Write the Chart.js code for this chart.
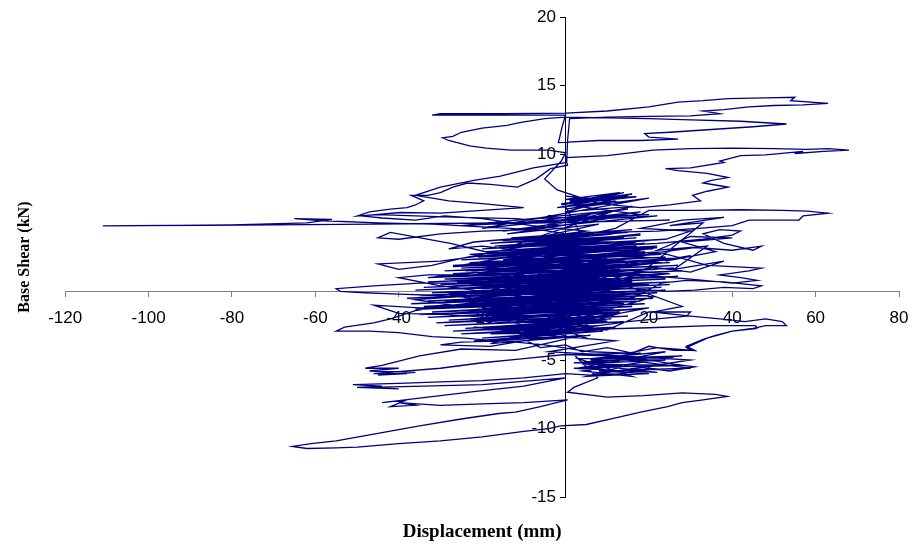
<!DOCTYPE html>
<html>
<head>
<meta charset="utf-8">
<script src="https://cdn.jsdelivr.net/npm/chart.js@4.4.1/dist/chart.umd.min.js"></script>
<style>
  html, body { margin: 0; padding: 0; background: #fff; }
</style>
</head>
<body>
<canvas id="hysteresisChart" width="915" height="550"></canvas>
<script>
// Axis ticks
const xTicks = [-120, -100, -80, -60, -40, -20, 0, 20, 40, 60, 80];
const yTicks = [-15, -10, -5, 0, 5, 10, 15, 20];

// Displacement (mm), base shear (kN) pairs, in time order
const coreSmall = [
  [0, 0], [4, 0.5], [-3, -0.3], [7, 0.9], [-6, -0.5], [9, 1.2], [-8, 0.2], [12, 0.8], [-10, -0.7], [13, 1.6],
  [-7, 0.5], [15, 2.0], [-12, -0.2], [10, 2.4], [-14, 0.7], [17, 1.2], [-11, -1.1], [14, 0.3], [-16, -0.8], [12, 1.9],
  [-18, 0.3], [19, 2.6], [-9, 1.5], [21, 1.8], [-15, -1.5], [8, -0.6], [-20, -1.0], [16, 0.9], [-13, 1.1], [18, 3.0],
  [-6, 2.3], [23, 2.1], [-17, 0.8], [13, -0.7], [-22, -1.8], [11, -1.3], [-19, -2.2], [7, -1.8], [-23, -0.5], [20, 0.5],
  [-25, 0.4], [15, 1.5], [-21, 1.3], [22, 3.2], [-4, 2.9], [17, 3.6], [-11, 2.1], [25, 1.3], [-27, -0.3], [9, -2.1],
  [-17, -2.7], [5, -2.5], [-24, -1.4], [19, -0.1], [-29, -0.7], [14, -0.9], [-26, 0.7], [24, 1.0], [-14, 2.0], [19, 2.9],
  [-19, 1.7], [11, 3.9], [-7, 3.4], [18, 4.2], [-13, 2.8], [26, 2.4], [-23, 1.5], [21, -0.4]
];

const coreSweepUp = [
  [-18, -3.8], [6, -3.2], [-22, -3.6], [9, -2.9], [-20, -3.4], [12, -2.7], [-25, -3.1], [8, -2.5], [-27, -2.9], [14, -2.2],
  [-24, -2.7], [11, -2.0], [-29, -2.5], [15, -1.8], [-31, -2.3], [13, -1.5], [-28, -2.1], [17, -1.3], [-33, -1.9], [16, -1.1],
  [-35, -1.7], [19, -0.9], [-32, -1.5], [18, -0.7], [-36, -1.3], [21, -0.5], [-34, -1.1], [20, -0.3], [-37, -0.9], [22, -0.1],
  [-33, -0.7], [24, 0.1], [-38, -0.5], [23, 0.3], [-35, -0.3], [25, 0.5], [-32, -0.1], [26, 0.7], [-36, 0.1], [24, 0.9],
  [-34, 0.3], [27, 1.1], [-30, 0.5], [25, 1.3], [-33, 0.7], [28, 1.5], [-29, 0.9], [26, 1.7], [-31, 1.1], [27, 1.9],
  [-27, 1.3], [25, 2.1], [-29, 1.5], [26, 2.3], [-25, 1.7], [24, 2.5], [-27, 1.9], [23, 2.7], [-23, 2.1], [25, 2.9],
  [-25, 2.3], [21, 3.1], [-21, 2.5], [22, 3.3], [-23, 2.7], [19, 3.5], [-19, 2.9], [20, 3.7], [-20, 3.1], [17, 3.9],
  [-17, 3.3], [18, 4.1], [-18, 3.5], [15, 4.3], [-15, 3.7], [16, 4.5], [-13, 3.9]
];

const coreSweepDown = [
  [12, 4.2], [-10, 3.6], [14, 3.9], [-16, 3.2], [10, 3.6], [-12, 2.9], [17, 3.3], [-20, 2.6], [13, 3.0], [-15, 2.3],
  [19, 2.7], [-22, 2.0], [15, 2.4], [-18, 1.8], [21, 2.2], [-24, 1.5], [16, 1.9], [-20, 1.2], [22, 1.6], [-26, 0.9],
  [18, 1.3], [-22, 0.7], [20, 1.0], [-27, 0.4], [15, 0.8], [-24, 0.2], [19, 0.5], [-28, -0.1], [14, 0.2], [-23, -0.3],
  [17, 0.0], [-26, -0.6], [12, -0.3], [-22, -0.8], [16, -0.5], [-25, -1.1], [11, -0.8], [-21, -1.3], [13, -1.0], [-24, -1.6],
  [9, -1.3], [-19, -1.8], [12, -1.6], [-22, -2.1], [7, -1.9], [-17, -2.3], [10, -2.2], [-20, -2.6], [5, -2.5], [-15, -2.8],
  [8, -2.8], [-18, -3.1], [3, -3.0], [-13, -3.3], [5, -3.4], [-6, -2.2], [10, -0.9], [-3, 0.6], [6, 1.4], [-5, 2.6]
];

const lowerRight = [
  [28, -1.1], [21, -1.5], [30, -1.8], [37, -2.0], [43, -2.2], [48, -2.0], [52, -2.2], [53, -2.5], [48, -2.5], [45, -2.7],
  [40, -2.9], [36, -3.2], [33, -3.5], [29, -4.0], [31, -4.3], [26, -4.3], [20, -4.0], [16, -4.5], [10, -4.1], [4, -4.4],
  [0, -3.9], [-6, -4.1], [-10, -3.5], [-17, -3.6], [-24, -3.4], [-32, -3.3], [-40, -3.0], [-47, -2.9], [-55, -2.9], [-53, -2.6],
  [-46, -2.3], [-42, -2.0], [-36, -1.4], [-30, -1.1], [-24, -0.9], [-14, -0.6], [-20, -1.2], [6, 0.2], [-12, -1.8], [10, -0.3],
  [-8, -2.4], [13, -1.6], [-4, -3.1], [12, -2.6], [-10, -2.9], [20, -1.2], [-16, -2.0], [2, -3.4], [-22, -2.6], [8, -2.9],
  [-3, -1.2], [16, -0.5]
];

const rightUpper = [
  [23, 0.6], [29, 0.8], [38, 0.7], [47, 0.4], [45, 0.2], [38, 0.3], [31, 0.1], [24, 0.0], [12, 0.3], [-10, -0.4],
  [-30, 0.4], [-40, 1.0], [-33, 1.2], [-22, 1.2], [-12, 1.6], [5, 2.0], [23, 2.8], [28, 2.4], [34, 1.9], [40, 1.8],
  [47, 1.7], [44, 1.5], [37, 1.2], [42, 1.0], [46, 0.8], [40, 0.6], [30, 0.9], [18, 1.2], [4, 1.0], [-14, 0.9],
  [-22, 0.6], [-35, 0.6], [-46, 0.4], [-55, 0.2], [-54, 0.0], [-48, -0.1], [-40, -0.2], [-30, -0.3], [-18, 0.1], [0, 1.3],
  [14, 2.4], [26, 3.0], [31, 3.2], [40, 3.0], [47, 3.3], [45, 3.0], [38, 3.5], [33, 4.2], [37, 4.5], [42, 4.4],
  [40, 4.1], [33, 3.8], [22, 3.5], [10, 3.3], [-4, 3.0], [-20, 2.6], [-30, 2.2], [-45, 2.0], [-40, 1.6], [-32, 1.9],
  [-25, 2.4], [-15, 3.0], [0, 3.8], [12, 4.6], [20, 5.9], [26, 5.9], [32, 5.9], [42, 5.95], [52, 5.9], [58, 5.85],
  [63, 5.7], [57, 5.5], [56, 5.2], [48, 5.2], [44, 5.2], [40, 4.8], [32, 4.6], [22, 4.4], [10, 4.3], [-2, 4.1],
  [-14, 3.8], [-22, 3.6], [-28, 3.1], [-20, 3.3]
];

const rightMid = [
  [18, 2.0], [30, 2.6], [24, 2.2], [36, 2.9], [28, 3.6], [40, 3.9], [30, 4.0], [22, 3.0], [34, 3.3], [26, 1.6],
  [38, 2.2], [30, 1.4], [20, 1.8], [33, 5.0], [25, 4.8], [38, 5.4], [28, 5.2], [18, 4.6], [30, 4.4], [24, 3.8],
  [12, 3.6]
];

const upperCentre = [
  [-10, 3.7], [8, 4.9], [-14, 4.2], [12, 5.4], [-6, 4.6], [16, 6.2], [0, 5.8], [15, 7.0], [1, 6.6], [14, 6.9],
  [-1, 6.4], [10, 6.7], [0, 6.95], [13, 6.5], [3, 6.2], [18, 5.6], [-3, 5.1], [6, 5.6], [-8, 4.6], [4, 4.0],
  [0, 6.2], [14, 7.2], [-1, 6.3], [16, 7.1], [1, 6.5], [13, 7.2], [0, 6.7], [17, 6.9], [2, 6.4], [15, 7.0],
  [-2, 6.1], [12, 6.6], [0, 6.0], [20, 6.8], [-20, 4.6], [18, 5.8], [-15, 4.4], [22, 5.5], [-25, 4.8], [15, 6.0],
  [-10, 5.0], [25, 5.2], [-18, 4.9], [20, 5.6], [-8, 5.3], [12, 5.9], [-12, 3.4], [9, 3.1], [-7, 2.8], [-18, 2.8],
  [-27.6, 3.5], [-42, 4.3], [-45, 3.9], [-40, 3.8], [-30, 4.2], [-20, 4.4], [-8, 4.5]
];

const spikeLeft = [
  [-20, 4.7], [-32, 4.9], [-45, 5.0], [-58, 5.15], [-65, 5.3], [-56, 5.25], [-62, 5.0], [-80, 4.85], [-100, 4.8], [-111, 4.78],
  [-104, 4.8], [-86, 4.82], [-62, 4.86], [-46, 4.9], [-30, 4.95], [-15, 5.0], [-4, 5.1], [-12, 5.3], [-25, 5.4], [-36, 5.5],
  [-45, 5.6], [-50, 5.5], [-47, 5.8], [-42, 6.0], [-38, 6.1], [-36, 6.3], [-34, 6.6], [-37, 7.0], [-33, 7.0], [-30, 7.2],
  [-27, 7.6], [-23.5, 7.9], [-18, 7.8], [-11.5, 7.6], [-7, 8.2], [-3.6, 8.95], [0.5, 9.2]
];

const upperLoops = [
  [0, 9.75], [10, 9.9], [21, 10.3], [30, 10.4], [40, 10.45], [50, 10.4], [58, 10.35], [63, 10.4], [68, 10.3], [62, 10.2],
  [55, 10.05], [57, 10.2], [48, 9.95], [42, 9.9], [37, 9.5], [38, 9.4], [30, 9.0], [24, 8.95], [27, 8.8], [34, 8.6],
  [39, 8.3], [35, 8.1], [33, 7.9], [37, 7.7], [39, 7.6], [34, 7.3], [30.5, 7.0], [32.4, 6.6], [25, 6.3], [18, 6.1],
  [8, 6.4], [-2, 7.4], [-5, 8.2], [-1, 9.5], [0, 10.1], [-4, 10.3], [-13, 10.3], [-19, 10.45], [-23, 10.6], [-28, 11.0],
  [-29.5, 11.2], [-27, 11.3], [-25, 11.6], [-20, 11.9], [-14, 12.1], [-11, 12.3], [-5, 12.6], [0, 12.7], [10, 12.65], [20, 12.6],
  [30, 12.5], [42, 12.4], [53, 12.2], [45, 12.0], [35, 11.8], [25, 11.6], [19, 11.5], [20, 11.25], [27, 11.1], [18, 11.0],
  [8, 11.0], [-1.7, 10.85], [-0.8, 12.0], [0, 12.85]
];

const topLoops = [
  [-10, 12.85], [-32, 12.85], [-30, 12.95], [-15, 12.95], [0, 13.0], [10, 13.15], [20, 13.45], [27, 13.8], [33, 13.9], [39, 14.05],
  [48, 14.1], [55, 14.15], [54, 13.9], [63, 13.7], [57, 13.6], [50, 13.55], [44, 13.45], [38, 13.25], [33, 13.15], [37, 12.95],
  [30, 12.8], [20, 12.75], [10, 12.7], [1, 12.6], [0.5, 11.0], [0.3, 9.4]
];

const descent = [
  [-7.7, 9.0], [-15.6, 8.4], [-22, 8.1], [-30, 7.6], [-36, 7.0], [-33, 6.85], [-28, 6.6], [-20, 6.4], [-10, 6.1], [-20, 5.9],
  [-30, 5.7], [-39.6, 5.75], [-49, 5.5], [-44, 5.35], [-36, 5.2], [-29, 5.5], [-20, 5.3], [-8, 4.8], [5, 4.4], [-5, 4.0],
  [8, 3.6], [-18, 2.6], [-8, 2.8], [-27, 1.8], [6, 2.2], [-33, 1.0], [-14, 1.2], [10, 1.9], [-20, 0.2], [16, 0.7],
  [-24, -0.4], [8, 0.3], [-36, -0.6], [-25, -1.1], [-35, -1.2], [-46, -1.0], [-40, -1.6], [-28, -1.7], [-14, -2.0], [0, -2.6],
  [10, -2.8], [20, -1.5], [30, -1.5], [29, -1.8], [15, -2.2], [0.7, -2.8], [20, -2.65], [35, -2.5], [45.6, -2.5], [46, -2.7],
  [40, -2.9], [34, -3.4], [29, -4.1], [30.7, -4.3], [22, -4.1], [15, -4.5]
];

const lowerLoops = [
  [6, -4.4], [-5, -3.9], [-15, -3.6], [-25, -3.7], [-30, -3.9], [-18, -4.0], [-8, -3.5], [4, -3.2], [-12, -4.3], [-25, -4.2],
  [-35, -4.7], [-44, -5.4], [-48, -5.6], [-40, -5.6], [-47, -5.8], [-36, -5.9], [-45, -6.1], [-38, -6.0], [-46, -6.0], [-30, -5.6],
  [-20, -5.2], [-10, -4.9], [0, -4.6], [10, -4.7], [18, -4.9], [26, -5.3], [31, -5.5], [25, -5.8], [20, -5.6], [14, -6.0],
  [6, -6.1], [0, -6.0], [-10, -6.3], [-20, -6.5], [-30, -6.6], [-40, -6.7], [-51, -6.8], [-44, -6.9], [-50, -7.0], [-40, -7.1],
  [-47, -7.0], [-34, -6.9], [-20, -6.8], [-8, -6.5], [0, -6.3], [-10, -6.9], [-22, -7.3], [-33, -7.7], [-44, -8.1], [-38, -7.9],
  [-42, -8.4], [-36, -8.3], [-40, -8.1], [-30, -8.3], [-20, -8.2], [-10, -8.1], [0.5, -7.9]
];

const bottomLoop = [
  [-6, -8.4], [-12, -8.8], [-16, -8.9], [-25, -9.3], [-35, -9.8], [-44, -10.3], [-55, -10.9], [-61, -11.1], [-65.5, -11.3], [-62, -11.45],
  [-55, -11.4], [-50, -11.35], [-40, -11.1], [-30, -10.9], [-20, -10.6], [-10, -10.2], [-4, -10.0], [-1.2, -9.8], [5, -9.7], [11.5, -9.25],
  [18, -8.8], [24.5, -8.4], [28, -8.1], [33, -7.9], [38.8, -7.65], [36, -7.5], [28, -7.4], [18.7, -7.6], [10, -7.7], [0.5, -7.35],
  [2, -7.0], [7.7, -6.3]
];

const lowerRightCluster = [
  [2, -4.6], [18, -4.5], [6, -5.0], [24, -5.0], [4, -5.3], [28, -5.4], [10, -5.5], [22, -5.9], [2, -5.6], [16, -5.3],
  [5, -6.2], [20, -6.0], [8, -5.8], [30, -5.6], [12, -4.9], [26, -4.8], [3, -4.9]
];

const decay = [
  [16, -6.2], [4, -5.8], [20, -5.1], [2, -5.2], [28, -4.7], [6, -4.9], [24, -4.4], [3, -5.6], [22, -5.4], [8, -6.0],
  [30, -5.0], [-4, -4.4], [12, -3.6], [-14, -3.0], [6, -2.0], [-18, -1.6], [10, -1.0], [-12, -0.6], [14, 0.6], [-10, 0.4],
  [9, 1.6], [-6, 0.8], [7, 0.2], [-4, -0.6], [4, 0.4], [-2, 0.1], [1, 0.2]
];

const hysteresis = [].concat(coreSmall, coreSweepUp, coreSweepDown, lowerRight, rightUpper, rightMid, upperCentre,
  spikeLeft, upperLoops, topLoops, descent, lowerLoops, bottomLoop, lowerRightCluster, decay)
  .map(p => ({ x: p[0], y: p[1] }));

const tickFont = { family: "'Liberation Sans', Arial, sans-serif", size: 17 };
const titleFont = { family: "'Liberation Serif', 'Times New Roman', serif", size: 16, weight: "bold" };

const ctx = document.getElementById("hysteresisChart").getContext("2d");
new Chart(ctx, {
  type: "scatter",
  data: {
    datasets: [
      {
        data: hysteresis,
        showLine: true,
        borderColor: "#000080",
        borderWidth: 1.3,
        pointRadius: 0,
        fill: false,
        tension: 0,
      },
    ],
  },
  options: {
    responsive: false,
    animation: false,
    devicePixelRatio: 1,
    layout: { padding: { top: 17, right: 16, left: 0, bottom: 0 } },
    plugins: {
      legend: { display: false },
      tooltip: { enabled: false },
      title: {
        display: true,
        text: "Base Shear (kN)",
        position: "left",
        fullSize: false,
        color: "#000",
        font: titleFont,
        padding: { top: 15, bottom: 31 },
      },
      subtitle: {
        display: true,
        text: "Displacement (mm)",
        position: "bottom",
        fullSize: false,
        color: "#000",
        font: { ...titleFont, size: 19 },
        padding: { top: 23.5, bottom: 6.5 },
      },
    },
    scales: {
      x: {
        type: "linear",
        min: -120,
        max: 80,
        position: { y: 0 },
        afterBuildTicks: (scale) => {
          scale.ticks = xTicks.map((v) => ({ value: v }));
        },
        // end labels may overhang the plot, as in the original
        afterFit: (scale) => {
          scale.paddingLeft = 0;
          scale.paddingRight = 0;
        },
        ticks: { color: "#000", font: tickFont, padding: 12, maxRotation: 0, autoSkip: false },
        grid: { drawOnChartArea: false, tickLength: 5, color: "#808080" },
        border: { color: "#808080", width: 1 },
      },
      y: {
        type: "linear",
        min: -15,
        max: 20,
        position: { x: 0 },
        afterBuildTicks: (scale) => {
          scale.ticks = yTicks.map((v) => ({ value: v }));
        },
        ticks: {
          color: "#000",
          font: tickFont,
          autoSkip: false,
          // centred axes get no label padding, so keep the labels clear of the tick marks
          callback: (value) => value + "  ",
        },
        grid: { drawOnChartArea: false, tickLength: 5, color: "#000" },
        border: { color: "#000", width: 1 },
      },
    },
  },
});
</script>
</body>
</html>
